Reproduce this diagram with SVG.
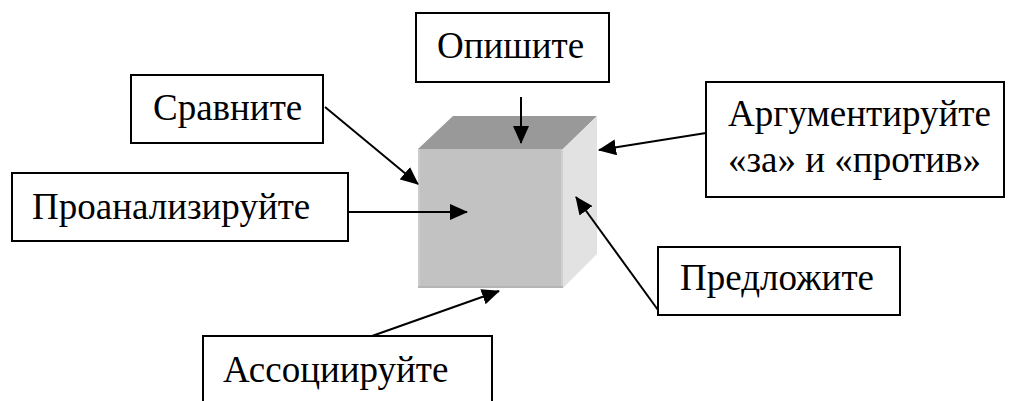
<svg xmlns="http://www.w3.org/2000/svg" width="1014" height="401" viewBox="0 0 1014 401">
<defs>
<marker id="ah" markerUnits="userSpaceOnUse" markerWidth="18" markerHeight="16" viewBox="0 0 18 16" refX="17" refY="8" orient="auto">
<path d="M0,0 L18,8 L0,16 Z" fill="#000"/>
</marker>
</defs>
<g id="cube">
<polygon points="418,149 453,116 597,116 563,149" fill="#999999"/>
<polygon points="563,149 597,116 597,254 563,288" fill="#e2e2e2"/>
<rect x="418" y="149" width="145" height="139" fill="#c2c2c2"/>
<line x1="419" y1="149" x2="419" y2="288" stroke="#cccccc" stroke-width="2"/>
<line x1="562" y1="149" x2="562" y2="288" stroke="#d0d0d0" stroke-width="2"/>
<line x1="418" y1="287" x2="563" y2="287" stroke="#b5b5b5" stroke-width="2"/>
</g>
<g fill="#fff" stroke="#000" stroke-width="2">
<g id="n-opishite">
<rect x="416" y="13" width="193" height="69"/>
<text font-family="Times New Roman, serif" font-size="37" fill="#000" stroke="none" x="437" y="58">Опишите</text>
</g>
<g id="n-sravnite">
<rect x="131" y="75" width="192" height="68"/>
<text font-family="Times New Roman, serif" font-size="37" fill="#000" stroke="none" x="153" y="120">Сравните</text>
</g>
<g id="n-proanaliziruyte">
<rect x="12" y="173" width="336" height="68"/>
<text font-family="Times New Roman, serif" font-size="37" fill="#000" stroke="none" x="32" y="219">Проанализируйте</text>
</g>
<g id="n-argumentiruyte">
<rect x="706" y="82" width="298" height="115"/>
<text font-family="Times New Roman, serif" font-size="37" fill="#000" stroke="none" x="728" y="126">Аргументируйте</text>
<text font-family="Times New Roman, serif" font-size="37" fill="#000" stroke="none" x="728" y="172">«за» и «против»</text>
</g>
<g id="n-predlozhite">
<rect x="658" y="247" width="242" height="68"/>
<text font-family="Times New Roman, serif" font-size="37" fill="#000" stroke="none" x="680" y="290">Предложите</text>
</g>
<g id="n-assotsiiruyte">
<path d="M203,402 L203,336 L492,336 L492,402"/>
<text font-family="Times New Roman, serif" font-size="37" fill="#000" stroke="none" x="223" y="382">Ассоциируйте</text>
</g>
</g>
<g id="connectors" stroke="#000" stroke-width="2" fill="none" marker-end="url(#ah)">
<line x1="521" y1="97" x2="521" y2="143"/>
<line x1="325" y1="107" x2="418" y2="184"/>
<line x1="348" y1="212" x2="467" y2="212"/>
<line x1="706" y1="133" x2="599" y2="150"/>
<line x1="658" y1="310" x2="576" y2="197"/>
<line x1="372" y1="336" x2="499" y2="291"/>
</g>
</svg>
